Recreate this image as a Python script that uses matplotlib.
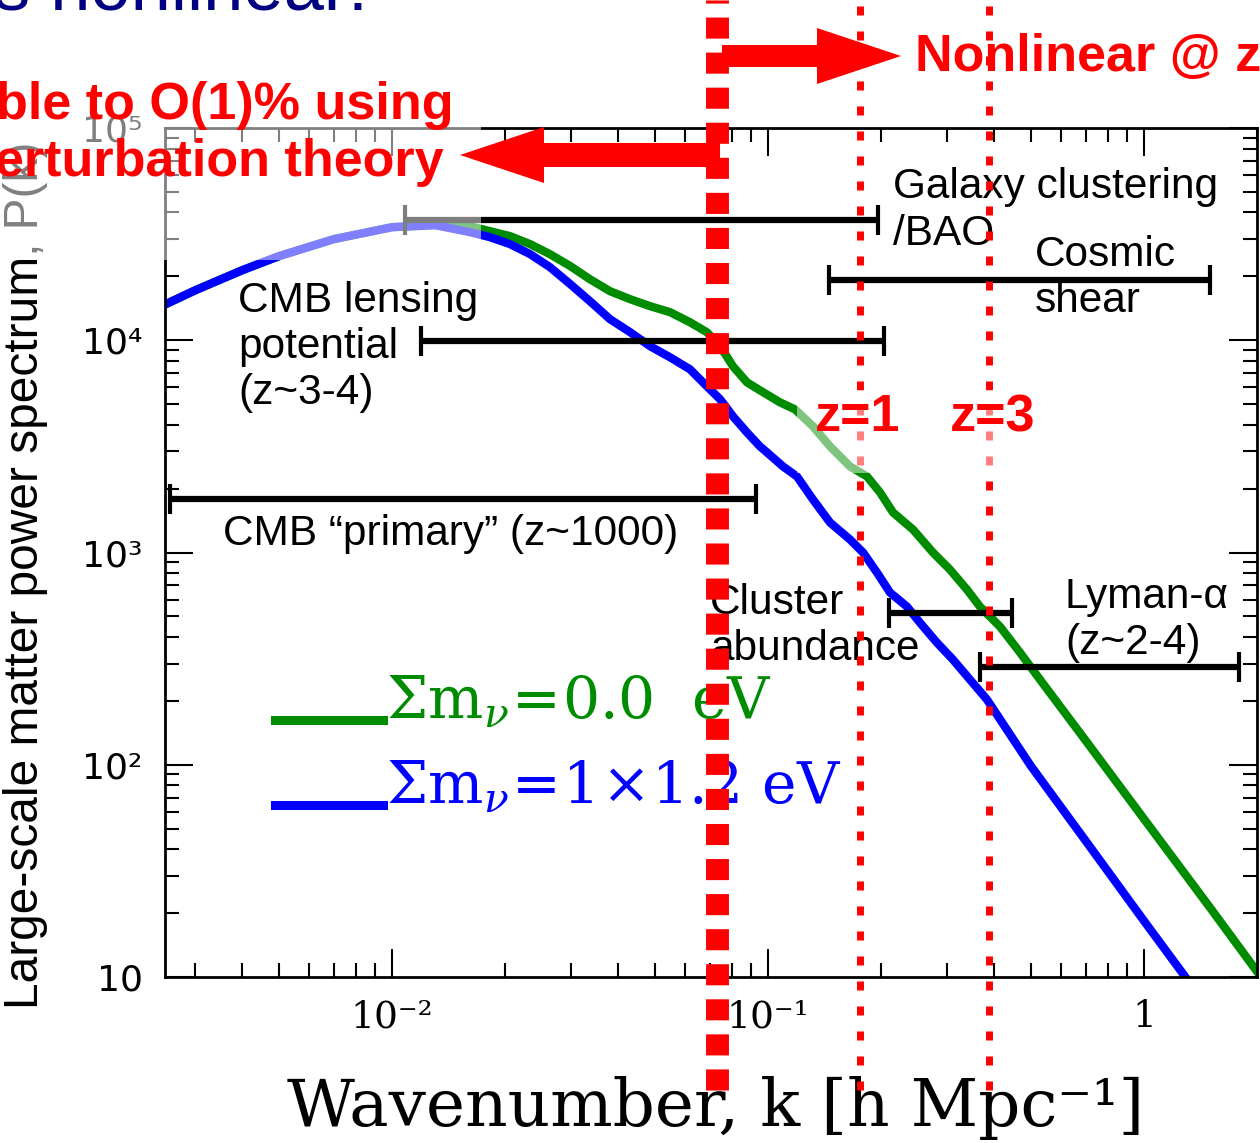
import numpy as np
import matplotlib
matplotlib.use("Agg")
import matplotlib.pyplot as plt
from matplotlib.patches import Rectangle, FancyArrow
from matplotlib.lines import Line2D
from matplotlib.legend_handler import HandlerLine2D
from matplotlib.ticker import LogLocator, NullFormatter

plt.rcParams['mathtext.fontset'] = 'dejavuserif'

# power spectra, k in h/Mpc
k_massless = [0.0025, 0.003, 0.004, 0.005, 0.007, 0.01, 0.013, 0.0161, 0.0182, 0.0206,
              0.0233, 0.0263, 0.0298, 0.0336, 0.038, 0.043, 0.0486, 0.0549, 0.062, 0.0688,
              0.0746, 0.0807, 0.0879, 0.0952, 0.1076, 0.118, 0.1317, 0.1462, 0.1652, 0.1834,
              0.1986, 0.215, 0.243, 0.2747, 0.3048, 0.3383, 0.3663, 0.414, 0.4681, 0.5291,
              0.7, 1.0, 1.5, 2.0]
p_massless = [14790, 17220, 21400, 24900, 29950, 34100, 34870, 34490, 32680, 30950,
              28370, 25450, 22350, 19390, 17030, 15610, 14470, 13560, 12160, 10910,
              9370, 7540, 6340, 5810, 5100, 4725, 3930, 3162, 2545, 2283,
              1919, 1545, 1284, 1000, 831, 669, 556, 448, 338, 252,
              130, 55.6, 21.2, 10.6]

k_massive = [0.0025, 0.003, 0.004, 0.005, 0.007, 0.01, 0.013, 0.0161, 0.0182, 0.0206,
             0.0233, 0.0263, 0.0298, 0.0336, 0.038, 0.043, 0.0486, 0.0549, 0.062, 0.0688,
             0.0746, 0.0807, 0.0879, 0.0952, 0.0994, 0.1096, 0.1194, 0.1317, 0.1462, 0.1652,
             0.179, 0.195, 0.2111, 0.2343, 0.2537, 0.2815, 0.3105, 0.3445, 0.3823, 0.5,
             0.7, 1.0, 1.3]
p_massive = [14790, 17220, 21400, 24900, 29950, 34100, 34870, 32320, 30610, 28370,
             25450, 22100, 18370, 15280, 12570, 10910, 9370, 8310, 7300, 6070,
             5270, 4380, 3680, 3162, 2962, 2545, 2283, 1778, 1385, 1152,
             1000, 804, 648, 556, 467, 376, 313, 252, 203, 98.9,
             43.8, 18.4, 9.8]

labels = [r'$\Sigma\mathrm{m}_{\nu}\!=\!\mathrm{0.0\ \ eV}$',
          r'$\Sigma\mathrm{m}_{\nu}\!=\!\mathrm{1}\!\times\!\mathrm{1.2\ eV}$']

# k ranges probed by each observable
probe_klo = [0.01084, 0.1453, 0.01193, 0.00257, 0.2099, 0.3664]
probe_khi = [0.196, 1.498, 0.2035, 0.0929, 0.4457, 1.789]
probe_p = [36800, 19190, 9886, 1778, 521, 290]
probe_text = ['Galaxy clustering\n/BAO', 'Cosmic\nshear', 'CMB lensing\npotential\n(z~3-4)',
              'CMB “primary” (z~1000)', 'Cluster\nabundance', 'Lyman-α\n(z~2-4)']
text_k = [0.2150, 0.5129, 0.003895, 0.003553, 0.07009, 0.6164]
text_p = [40830, 19730, 9270, 1216, 449.6, 483]

k_nl_z0 = 0.0732
k_nl_z1 = 0.1757
k_nl_z3 = 0.387

xtick_vals = [0.01, 0.1, 1]
xtick_labels = ['10⁻²', '10⁻¹', '1']
ytick_vals = [10, 100, 1e3, 1e4, 1e5]
ytick_labels = ['10', '10²', '10³', '10⁴', '10⁵']


class BaselineLine(HandlerLine2D):
    # put the legend key on the text baseline, like the original
    def create_artists(self, legend, orig_handle, xdescent, ydescent, width, height, fontsize, trans):
        arts = super().create_artists(legend, orig_handle, xdescent, ydescent, width, height, fontsize, trans)
        for a in arts:
            a.set_ydata(np.asarray(a.get_ydata()) - 0.55 * height)
        return arts


fig = plt.figure(figsize=(12.6, 11.43), dpi=100)
ax = fig.add_axes([0.1310, 0.1452, 0.8667, 0.7428])

green = '#008c00'
blue = '#0000ff'
l1, = ax.plot(k_massless, p_massless, color=green, lw=6, zorder=2)
l2, = ax.plot(k_massive, p_massive, color=blue, lw=6, zorder=2.1)

for lo, hi, p in zip(probe_klo, probe_khi, probe_p):
    c = np.sqrt(lo * hi)
    ax.errorbar(c, p, xerr=[[c - lo], [hi - c]], fmt='none', ecolor='black',
                elinewidth=4.5, capsize=11, capthick=3, zorder=4)

for t, kx, py in zip(probe_text, text_k, text_p):
    ax.text(kx, py, t, fontsize=30.5, family='Liberation Sans', ha='left', va='center',
            linespacing=1.2, zorder=3)

ax.axvline(k_nl_z0, ymin=-0.133, ymax=1.151, color='red', lw=16.5,
           linestyle=(0, (0.92, 0.61)), dash_capstyle='butt', clip_on=False, zorder=6)
for kz in [k_nl_z1, k_nl_z3]:
    ax.axvline(kz, ymin=-0.133, ymax=1.151, color='red', lw=5,
               linestyle=(0, (1.3, 2.3)), dash_capstyle='butt', clip_on=False, zorder=6)

ax.set_xscale('log')
ax.set_yscale('log')
ax.set_xlim(0.00249, 2.0)
ax.set_ylim(10, 1e5)
ax.set_xticks(xtick_vals, xtick_labels, fontsize=27, family='DejaVu Serif')
ax.set_yticks(ytick_vals, ytick_labels, fontsize=26, family='DejaVu Sans')
ax.xaxis.set_minor_locator(LogLocator(base=10, subs=np.arange(2, 10), numticks=30))
ax.yaxis.set_minor_locator(LogLocator(base=10, subs=np.arange(2, 10), numticks=30))
ax.xaxis.set_minor_formatter(NullFormatter())
ax.yaxis.set_minor_formatter(NullFormatter())
ax.tick_params(which='both', direction='in', top=True, right=True, width=1.5)
ax.tick_params(which='major', length=20)
ax.tick_params(which='minor', length=10)
ax.tick_params(axis='x', pad=16)
ax.tick_params(axis='y', pad=16)
for s in ax.spines.values():
    s.set_linewidth(2)

ax.set_ylabel('Large-scale matter power spectrum, P(k)', fontsize=34.5, family='Liberation Sans')
ax.yaxis.set_label_coords(-0.107, 0.4735)
ax.set_xlabel('Wavenumber, k [h Mpc⁻¹]', fontsize=47.5, family='DejaVu Serif')
ax.xaxis.set_label_coords(0.5037, -0.116)

leg = ax.legend([l1, l2], labels, loc='upper left', bbox_to_anchor=(0.1007, 0.358),
                frameon=False, fontsize=42, handlelength=1.85, handletextpad=0.05,
                borderpad=0, borderaxespad=0, labelspacing=0.48, labelcolor='linecolor',
                handler_map={Line2D: BaselineLine()})
for h in leg.get_lines():
    h.set_linewidth(6.5)
leg.set_zorder(5)

# washed-out boxes from the slide
fig.add_artist(Rectangle((0, 0.7725), 0.3817, 0.2056, transform=fig.transFigure,
                         facecolor='white', edgecolor='none', alpha=0.5, zorder=1))
fig.add_artist(Rectangle((0.6325, 0.5862), 0.1968, 0.0726, transform=fig.transFigure,
                         facecolor='white', edgecolor='none', alpha=0.5, zorder=1))

# slide arrows
fig.add_artist(FancyArrow(7.20, 9.88, -2.60, 0, width=0.24, head_width=0.56, head_length=0.84,
                          length_includes_head=True, color='red', lw=0,
                          transform=fig.dpi_scale_trans, zorder=2))
fig.add_artist(FancyArrow(7.22, 10.87, 1.79, 0, width=0.22, head_width=0.56, head_length=0.84,
                          length_includes_head=True, color='red', lw=0,
                          transform=fig.dpi_scale_trans, zorder=2))

red_kw = dict(color='red', fontsize=37.5, fontweight='bold', family='Liberation Sans', va='center')
fig.text(-0.003, 0.9073, 'ble to O(1)% using', **red_kw)
fig.text(-0.004, 0.8574, 'erturbation theory', **red_kw)
fig.text(0.7262, 0.9493, 'Nonlinear @ z', **red_kw)
fig.text(0.6468, 0.6343, 'z=1', **red_kw)
fig.text(0.7540, 0.6343, 'z=3', **red_kw)
fig.text(-0.005, 1 - 9 / 1143, 's nonlinear:', color='#000080', fontsize=52,
         family='Liberation Sans', va='baseline')

fig.savefig('out.png', dpi=100)
